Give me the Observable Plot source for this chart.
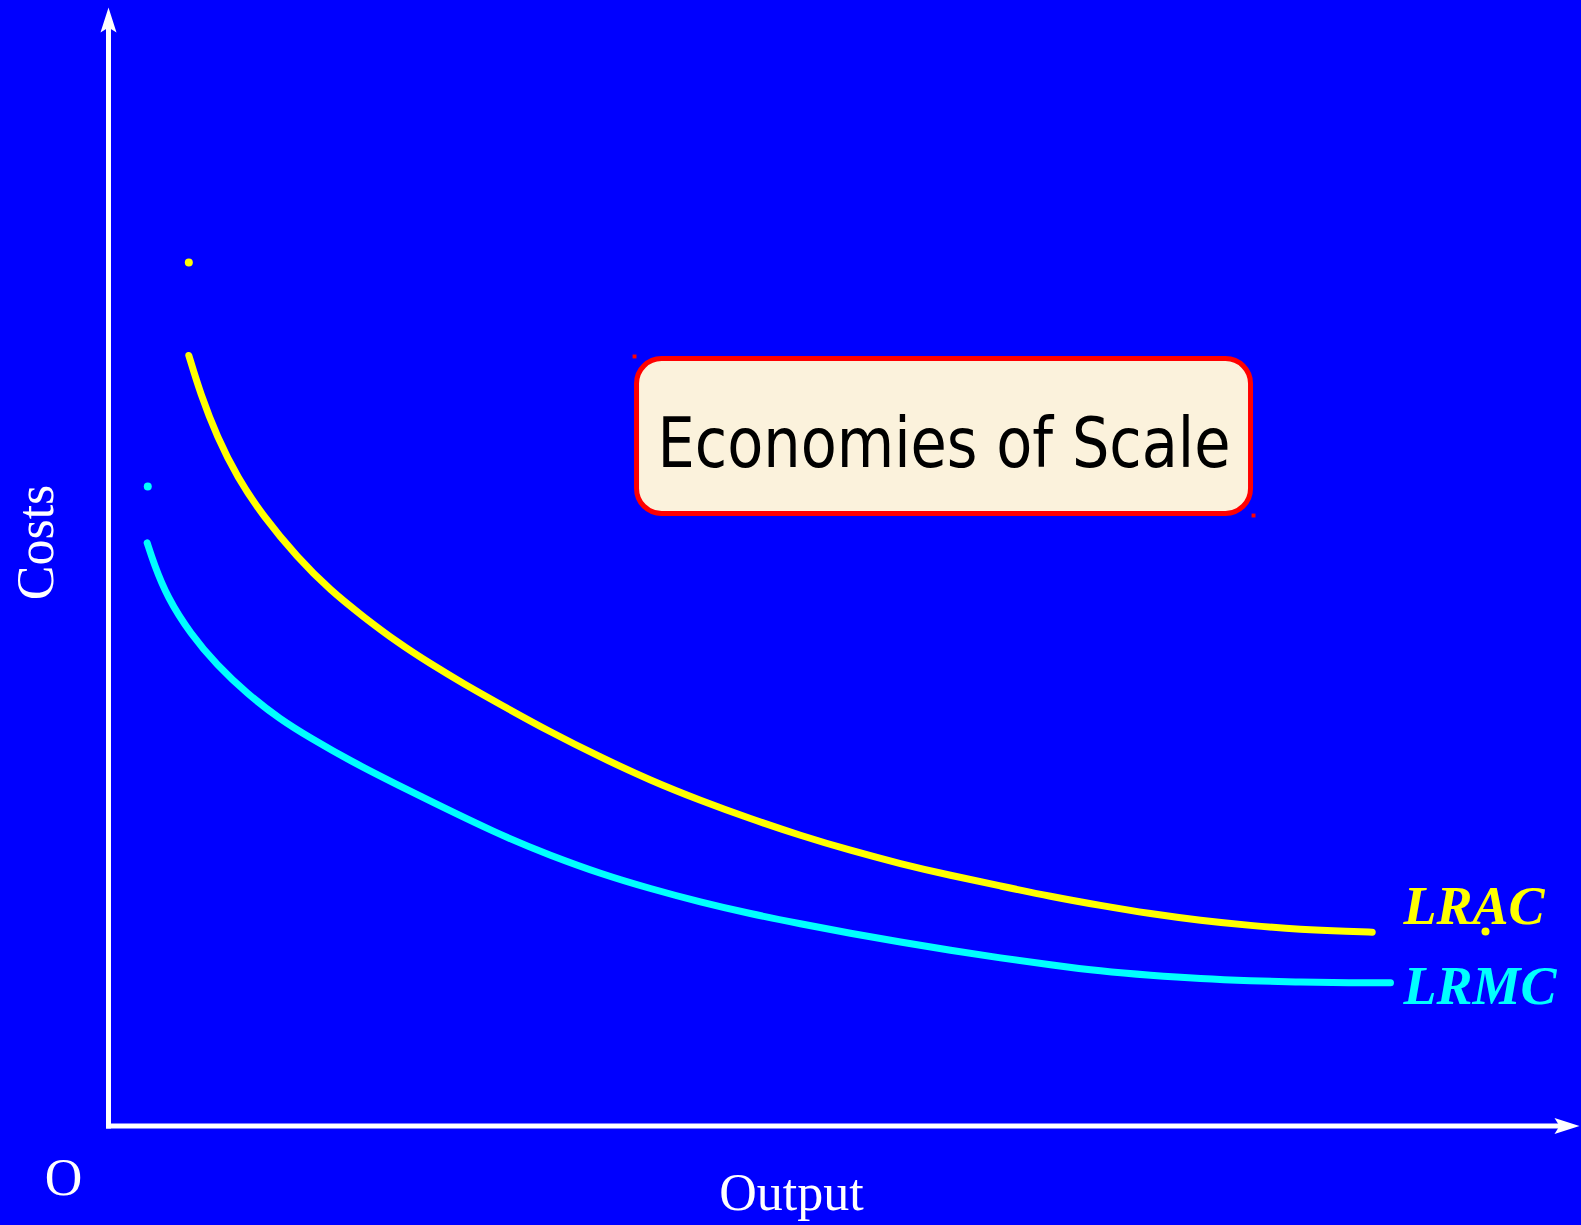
<!DOCTYPE html>
<html>
<head>
<meta charset="utf-8">
<script src="https://cdn.jsdelivr.net/npm/d3@7"></script>
<script src="https://cdn.jsdelivr.net/npm/@observablehq/plot@0.6"></script>
<style>
  html, body { margin: 0; padding: 0; background: #0000ff; overflow: hidden; }
</style>
</head>
<body>
<div id="chart"></div>
<script>
// ---- Data (Output units 0..100, Cost units 0..100) ----
const lracOutput = [5.46, 6.25, 7.39, 8.75, 10.56, 12.83, 15.09, 17.36, 19.63, 21.89, 24.15, 26.65, 30.05, 33.45, 36.85, 40.24, 43.64, 47.04, 50.44, 53.84, 57.24, 60.64, 64.04, 67.44, 70.84, 74.24, 77.63, 81.03, 84.43, 85.91];
const lracCost   = [68.89, 65.46, 61.58, 58.01, 54.43, 50.85, 47.87, 45.49, 43.25, 41.32, 39.53, 37.68, 35.21, 32.97, 30.89, 29.10, 27.47, 25.97, 24.63, 23.44, 22.40, 21.46, 20.52, 19.71, 18.97, 18.37, 17.92, 17.57, 17.39, 17.33];

const lrmcOutput = [2.63, 3.08, 3.99, 5.57, 7.39, 9.43, 11.69, 13.73, 16.45, 19.85, 26.65, 30.05, 33.45, 36.85, 40.24, 43.64, 47.04, 50.44, 53.84, 57.24, 60.64, 64.04, 67.44, 70.84, 74.24, 77.63, 81.03, 84.43, 87.15];
const lrmcCost   = [52.14, 50.30, 47.28, 44.00, 41.17, 38.64, 36.34, 34.69, 32.63, 30.35, 25.97, 24.19, 22.55, 21.21, 20.01, 18.97, 18.08, 17.21, 16.45, 15.70, 15.02, 14.42, 13.84, 13.46, 13.16, 12.98, 12.86, 12.80, 12.80];

// stray anchor dots
const dotOutput = [5.46, 2.67, 93.61];
const dotCost   = [77.20, 57.17, 17.39];
const dotColor  = ["#ffff00", "#00ffff", "#ffff00"];

// curve labels
const curveLabels = ["LRAC", "LRMC"];
const curveLabelOutput = [88.04, 88.04];
const curveLabelCost   = [18.10, 10.95];
const curveLabelColor  = ["#ffff00", "#00ffff"];

// axis titles
const axisLabels = ["O", "Output"];
const axisLabelOutput = [-3.06, 46.43];
const axisLabelCost = [-6.21, -7.55];
const costsLabel = "Costs";
const costsLabelPos = [-3.74, 52.17];

// title box
const boxOutput = [35.93, 77.67];
const boxCost = [54.72, 68.57];
const boxTitle = "Economies of Scale";
const boxTitlePos = [56.80, 58.96];
const handleOutput = [35.76, 77.84];
const handleCost = [68.80, 54.58];

// axes (arrow lines end at notch of arrowhead)
const axisLines = [
  {x1: 0, y1: 0, x2: 0, y2: 98.1},
  {x1: 0, y1: 0, x2: 98.6, y2: 0}
];
const axisTips = [
  {x: 0, y: 100, rot: 0},
  {x: 100, y: 0, rot: 90}
];

// ---- build tables ----
const lrac = lracOutput.map((x, i) => ({x, y: lracCost[i]}));
const lrmc = lrmcOutput.map((x, i) => ({x, y: lrmcCost[i]}));
const dots = dotOutput.map((x, i) => ({x, y: dotCost[i], c: dotColor[i]}));
const curveLabelData = curveLabels.map((t, i) => ({t, x: curveLabelOutput[i], y: curveLabelCost[i], c: curveLabelColor[i]}));
const axisLabelData = axisLabels.map((t, i) => ({t, x: axisLabelOutput[i], y: axisLabelCost[i]}));
const handles = handleOutput.map((x, i) => ({x, y: handleCost[i]}));

const arrowHead = {
  draw(context, size) {
    const s = Math.sqrt(size / Math.PI) / 4;
    context.moveTo(0, 0);
    context.lineTo(8 * s, 25 * s);
    context.lineTo(0, 20 * s);
    context.lineTo(-8 * s, 25 * s);
    context.closePath();
  }
};

const serif = "'Liberation Serif', 'Times New Roman', serif";

const chart = Plot.plot({
  width: 1581,
  height: 1225,
  margin: 0,
  style: {background: "#0000ff", overflow: "visible"},
  x: {domain: [0, 100], range: [108, 1579], axis: null},
  y: {domain: [0, 100], range: [1125.5, 7], axis: null},
  marks: [
    Plot.link(axisLines, {x1: "x1", y1: "y1", x2: "x2", y2: "y2", stroke: "white", strokeWidth: 5, strokeLinecap: "square"}),
    Plot.dot(axisTips, {x: "x", y: "y", rotate: "rot", symbol: arrowHead, r: 4, fill: "white", stroke: "none"}),
    Plot.line(lrac, {x: "x", y: "y", stroke: "#ffff00", strokeWidth: 7, strokeLinecap: "round", curve: "basis"}),
    Plot.line(lrmc, {x: "x", y: "y", stroke: "#00ffff", strokeWidth: 7, strokeLinecap: "round", curve: "basis"}),
    Plot.dot(dots, {x: "x", y: "y", r: 4, fill: "c", stroke: "none"}),
    Plot.text(curveLabelData, {x: "x", y: "y", text: "t", fill: "c", fontSize: 54, fontFamily: serif, fontStyle: "italic", fontWeight: "bold", textAnchor: "start", lineAnchor: "bottom"}),
    Plot.text(axisLabelData, {x: "x", y: "y", text: "t", fill: "white", fontSize: 52, fontFamily: serif, textAnchor: "middle", lineAnchor: "bottom"}),
    Plot.text([costsLabel], {x: () => costsLabelPos[0], y: () => costsLabelPos[1], text: d => d, fill: "white", fontSize: 52, fontFamily: serif, rotate: -90, textAnchor: "middle", lineAnchor: "bottom"}),
    Plot.rect([0], {x1: () => boxOutput[0], x2: () => boxOutput[1], y1: () => boxCost[0], y2: () => boxCost[1], rx: 25, fill: "#fbf2dc", stroke: "#ff0000", strokeWidth: 5}),
    Plot.dot(handles, {x: "x", y: "y", symbol: "square", r: 2.2, fill: "#ff0000", stroke: "none"}),
    Plot.text([boxTitle], {x: () => boxTitlePos[0], y: () => boxTitlePos[1], text: d => d, fill: "black", fontSize: 70, fontFamily: "'Comic Sans MS', 'DejaVu Sans', sans-serif", textAnchor: "middle", lineAnchor: "bottom"})
  ]
});

document.getElementById("chart").appendChild(chart);
chart.querySelectorAll("text").forEach(t => {
  if (t.textContent === boxTitle) {
    t.setAttribute("textLength", "573");
    t.setAttribute("lengthAdjust", "spacingAndGlyphs");
  }
});
</script>
</body>
</html>
